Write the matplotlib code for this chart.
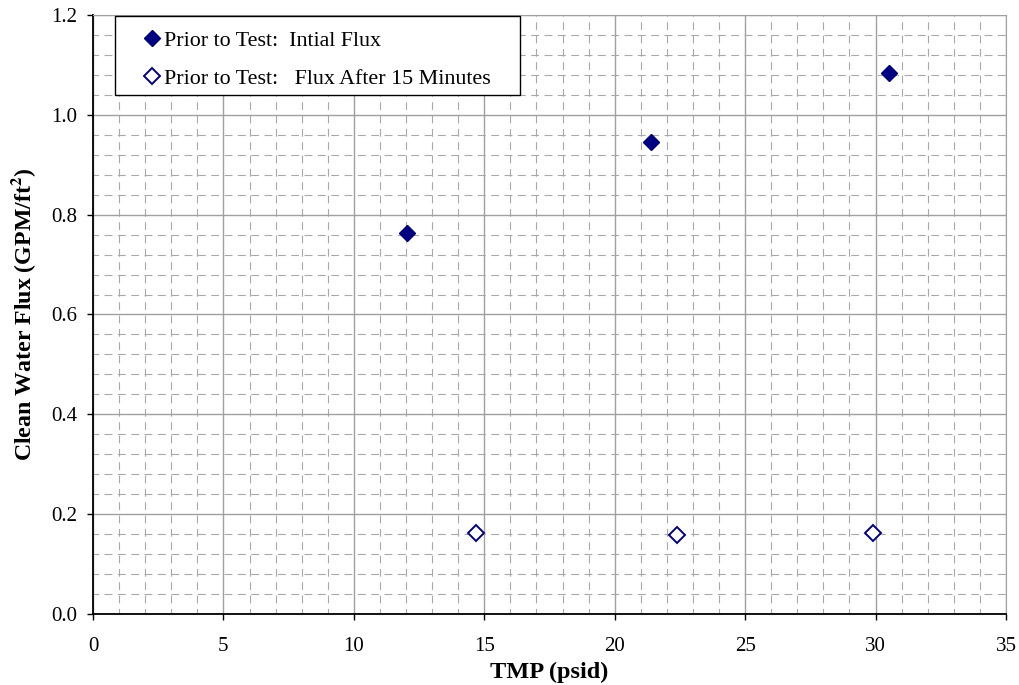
import numpy as np
import matplotlib.pyplot as plt
from matplotlib.patches import Rectangle
from matplotlib.ticker import MultipleLocator

plt.rcParams['font.family'] = ['Liberation Serif', 'DejaVu Serif']
plt.rcParams['mathtext.fontset'] = 'stix'

# Clean water flux vs. transmembrane pressure
tmp_initial = [12.05, 21.4, 30.5]
flux_initial = [0.763, 0.946, 1.084]
tmp_15min = [14.7, 22.4, 29.9]
flux_15min = [0.162, 0.159, 0.162]

navy = '#000080'
gray = '#a0a0a0'

fig = plt.figure(figsize=(10.2, 6.85), dpi=100)
ax = fig.add_axes([93/1020, 1 - 614/685, 913/1020, 599/685])

ax.set_xlim(0, 35)
ax.set_ylim(0, 1.2)
ax.xaxis.set_major_locator(MultipleLocator(5))
ax.xaxis.set_minor_locator(MultipleLocator(1))
ax.yaxis.set_major_locator(MultipleLocator(0.2))
ax.yaxis.set_minor_locator(MultipleLocator(0.04))

ax.grid(which='major', color=gray, linewidth=1.0, linestyle='-')
ax.grid(which='minor', color='#a8a8a8', linewidth=0.8, linestyle=(2, (7, 5)))
ax.set_axisbelow(True)

ax.tick_params(which='major', direction='out', length=4.5, width=1, labelsize=15,
               color='black', top=False, right=False)
ax.tick_params(axis='x', which='major', pad=12)
ax.tick_params(axis='y', which='major', pad=7)
ax.tick_params(which='minor', length=0)
ax.yaxis.set_major_formatter(plt.FuncFormatter(lambda v, p: f'{v:.1f}'))

for side in ['top', 'right']:
    ax.spines[side].set_color(gray)
for side in ['left', 'bottom']:
    ax.spines[side].set_color('black')
    ax.spines[side].set_linewidth(1.3)

ax.plot(tmp_initial, flux_initial, linestyle='none', marker='D', markersize=8.5,
        color=navy, label='Prior to Test:  Intial Flux')
ax.plot(tmp_15min, flux_15min, linestyle='none', marker='D', markersize=8,
        markerfacecolor='white', markeredgecolor=navy, markeredgewidth=1.4,
        label='Prior to Test:   Flux After 15 Minutes')

ax.set_xlabel('TMP (psid)', fontsize=17.5, fontweight='bold', labelpad=4)
ax.set_ylabel('Clean Water Flux (GPM/ft$^{\\mathbf{2}}$)', fontsize=17.2,
              fontweight='bold', labelpad=9)

# legend box drawn separately so its padding can be wider than tall
ax.add_patch(Rectangle((0.0241, 0.8664), 0.4436, 0.1319, transform=ax.transAxes,
                       facecolor='white', edgecolor='black', linewidth=1.0,
                       zorder=4))
leg = ax.legend(loc='upper left', bbox_to_anchor=(0.0526, 0.9742), fontsize=15.8,
                frameon=False, handletextpad=0.05, handlelength=1.0,
                borderpad=0, labelspacing=0.82, borderaxespad=0)
leg.set_zorder(5)

fig.savefig('out.png', dpi=100)
